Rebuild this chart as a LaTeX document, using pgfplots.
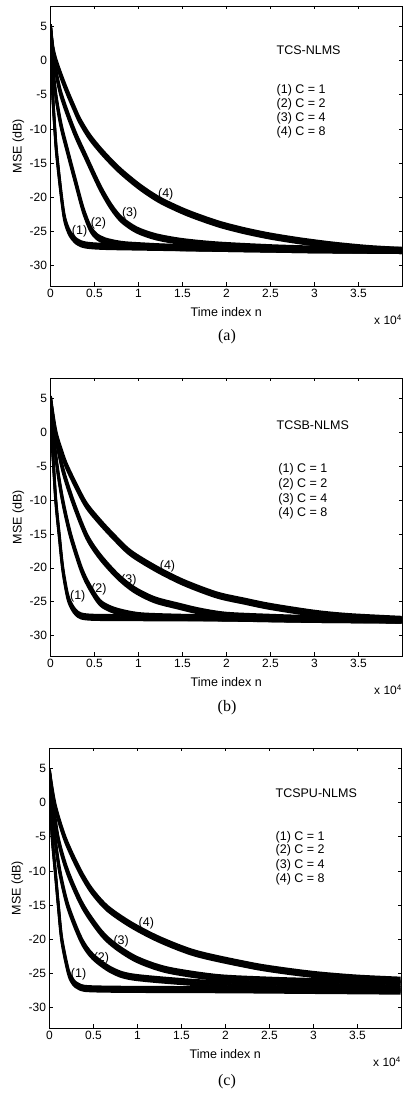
\documentclass[border=0pt]{standalone}
\usepackage{fontspec}
\setmainfont{Liberation Sans}
\newfontfamily\capfont{Liberation Serif}
\usepackage{pgfplots}
\usepackage{pgfplotstable}
\pgfplotsset{compat=1.18}

% (a) TCS-NLMS, x in units of 10^4
\pgfplotstableread{
x y
0 5
0.01 0
0.025 -5
0.049 -10
0.07 -13.6
0.125 -20
0.163 -23.3
0.22 -25.3
0.3 -26.5
0.4 -27.0
0.6 -27.2
1 -27.3
1.5 -27.4
2 -27.5
2.5 -27.6
3 -27.7
3.5 -27.75
3.99 -27.8
}\aA
\pgfplotstableread{
x y
0 5
0.02 0
0.06 -5
0.12 -9.5
0.2 -13.6
0.29 -18
0.37 -21.8
0.45 -24.5
0.52 -25.7
0.62 -26.4
0.8 -26.9
1.0 -27.1
1.4 -27.35
2 -27.5
2.5 -27.6
3 -27.7
3.5 -27.75
3.99 -27.8
}\aB
\pgfplotstableread{
x y
0 5
0.04 0
0.11 -4.5
0.2 -8
0.29 -11
0.39 -13.8
0.56 -18.5
0.69 -21.4
0.81 -23.3
0.98 -24.8
1.2 -25.8
1.5 -26.5
1.9 -27.0
2.5 -27.4
3 -27.6
3.5 -27.7
3.99 -27.8
}\aC
\pgfplotstableread{
x y
0 5
0.025 2
0.06 0
0.13 -2.6
0.2 -4.9
0.27 -7
0.333 -8.8
0.447 -11.2
0.6 -13.6
0.79 -16.1
1.016 -18.5
1.24 -20.4
1.5 -22.0
1.7 -23.0
1.93 -24.0
2.2 -24.9
2.5 -25.7
2.84 -26.4
3.2 -27.0
3.6 -27.5
3.99 -27.8
}\aD

% (b) TCSB-NLMS
\pgfplotstableread{
x y
0 5
0.012 0
0.035 -5
0.062 -10.4
0.1 -15.3
0.14 -20.2
0.195 -24.2
0.245 -25.8
0.29 -26.6
0.35 -27.1
0.5 -27.3
1 -27.35
2 -27.4
3 -27.6
3.99 -27.7
}\bA
\pgfplotstableread{
x y
0 5
0.03 0
0.08 -5.5
0.143 -10.4
0.23 -15.3
0.35 -20.2
0.44 -22.7
0.56 -25.1
0.69 -26.1
0.85 -26.7
1.05 -27.1
1.5 -27.3
2 -27.4
3 -27.6
3.99 -27.7
}\bB
\pgfplotstableread{
x y
0 5
0.05 0
0.14 -5.5
0.26 -10.4
0.41 -15.3
0.56 -18.3
0.76 -21.2
0.95 -23.2
1.18 -24.7
1.44 -25.6
1.7 -26.4
2.0 -27.0
2.5 -27.3
3 -27.5
3.5 -27.6
3.99 -27.7
}\bC
\pgfplotstableread{
x y
0 5
0.06 0
0.13 -3.1
0.2 -5.5
0.39 -10.4
0.54 -12.9
0.71 -15.3
0.91 -17.8
1.21 -20.2
1.52 -22.2
1.89 -24.0
2.2 -24.9
2.5 -25.7
3.0 -26.7
3.4 -27.2
3.99 -27.6
}\bD

% (c) TCSPU-NLMS
\pgfplotstableread{
x y
0 4.5
0.01 0
0.03 -5
0.065 -10
0.1 -15
0.14 -20.1
0.215 -24.8
0.27 -26.3
0.33 -26.9
0.4 -27.2
0.6 -27.3
1 -27.35
2 -27.4
3 -27.5
3.99 -27.6
}\cA
\pgfplotstableread{
x y
0 4.5
0.02 0
0.064 -5.4
0.12 -10.3
0.21 -15.2
0.36 -20.1
0.49 -22.5
0.7 -24.5
0.93 -25.5
1.5 -26.2
2.0 -26.6
2.5 -26.9
3 -27.1
3.5 -27.2
3.99 -27.3
}\cB
\pgfplotstableread{
x y
0 4.5
0.04 0
0.1 -5.4
0.21 -10.3
0.38 -15.2
0.59 -19.1
0.76 -21.1
1.0 -23
1.34 -24.5
1.9 -25.6
2.5 -26.0
3 -26.2
3.5 -26.4
3.99 -26.5
}\cC
\pgfplotstableread{
x y
0 4.5
0.064 -0.5
0.18 -5.4
0.34 -9.9
0.48 -12.9
0.66 -15.5
0.93 -17.9
1.26 -20.1
1.67 -22.1
2.27 -23.8
2.6 -24.5
3.03 -25.2
3.5 -25.7
3.99 -26.0
}\cD

\newcommand{\tfont}{\fontsize{12}{13}\selectfont}
\newcommand{\lfont}{\fontsize{12.5}{14}\selectfont}
\pgfplotsset{mseax/.style={
  scale only axis, width=351.5pt, height=280pt,
  xmin=0, xmax=3.995, ymin=-33, ymax=8,
  xtick={0,0.5,...,3.5}, ytick={-30,-25,...,5},
  tick align=inside, xtick pos=both, ytick pos=both,
  major tick length=3.5pt,
  axis line style={line width=0.7pt},
  tick style={line width=0.6pt, black},
  ticklabel style={font=\tfont},
  /pgf/number format/assume math mode=true,
  xlabel={Time index n}, ylabel={MSE (dB)},
  label style={font=\lfont},
  xlabel style={at={(axis description cs:0.5,0)}, anchor=center, yshift=-26pt},
  ylabel style={at={([xshift=-32pt]axis description cs:0,0.5)}, anchor=center},
  clip mode=individual,
}, curve/.style={black, line width=2.7pt, line join=round, no marks, smooth, tension=0.5}}

% each noisy MSE curve drawn as a band about 7pt high
\newcommand{\band}[1]{%
  \addplot[curve, yshift=2.2pt] table {#1};
  \addplot[curve] table {#1};
  \addplot[curve, yshift=-2.2pt] table {#1};}

\begin{document}
\begin{tikzpicture}[x=1pt,y=1pt]
\path[use as bounding box] (0,0) rectangle (403,1099);

\begin{axis}[mseax, at={(50.5pt,1093pt)}, anchor=north west]
\band{\aA}\band{\aB}\band{\aC}\band{\aD}
\node[font=\lfont] at (axis cs:0.33,-24.95) {(1)};
\node[font=\lfont] at (axis cs:0.545,-23.8) {(2)};
\node[font=\lfont] at (axis cs:0.9,-22.3) {(3)};
\node[font=\lfont] at (axis cs:1.31,-19.5) {(4)};
\node[font=\lfont, anchor=west] at (axis cs:2.53,1.56) {TCS-NLMS};
\node[font=\lfont, anchor=west] at (axis cs:2.53,-4.3) {(1) C = 1};
\node[font=\lfont, anchor=west] at (axis cs:2.53,-6.35) {(2) C = 2};
\node[font=\lfont, anchor=west] at (axis cs:2.53,-8.4) {(3) C = 4};
\node[font=\lfont, anchor=west] at (axis cs:2.53,-10.45) {(4) C = 8};
\node[font=\tfont] at ([xshift=-14pt,yshift=-34pt]rel axis cs:1,0) {x 10\textsuperscript{4}};
\end{axis}
\node[font=\capfont\fontsize{16}{18}\selectfont] at (227,762) {(a)};

\begin{axis}[mseax, at={(50.5pt,721pt)}, anchor=north west, height=278pt]
\band{\bA}\band{\bB}\band{\bC}\band{\bD}
\node[font=\lfont] at (axis cs:0.31,-24.25) {(1)};
\node[font=\lfont] at (axis cs:0.55,-23.2) {(2)};
\node[font=\lfont] at (axis cs:0.89,-21.8) {(3)};
\node[font=\lfont] at (axis cs:1.33,-19.8) {(4)};
\node[font=\lfont, anchor=west] at (axis cs:2.53,1.07) {TCSB-NLMS};
\node[font=\lfont, anchor=west] at (axis cs:2.55,-5.4) {(1) C = 1};
\node[font=\lfont, anchor=west] at (axis cs:2.55,-7.7) {(2) C = 2};
\node[font=\lfont, anchor=west] at (axis cs:2.55,-9.85) {(3) C = 4};
\node[font=\lfont, anchor=west] at (axis cs:2.55,-11.96) {(4) C = 8};
\node[font=\tfont] at ([xshift=-14pt,yshift=-34pt]rel axis cs:1,0) {x 10\textsuperscript{4}};
\end{axis}
\node[font=\capfont\fontsize{16}{18}\selectfont] at (227,391) {(b)};

\begin{axis}[mseax, at={(49.5pt,351pt)}, anchor=north west]
\band{\cA}\band{\cB}\band{\cC}\band{\cD}
\node[font=\lfont] at (axis cs:0.33,-25.2) {(1)};
\node[font=\lfont] at (axis cs:0.59,-22.8) {(2)};
\node[font=\lfont] at (axis cs:0.815,-20.3) {(3)};
\node[font=\lfont] at (axis cs:1.1,-17.6) {(4)};
\node[font=\lfont, anchor=west] at (axis cs:2.53,1.37) {TCSPU-NLMS};
\node[font=\lfont, anchor=west] at (axis cs:2.53,-5.0) {(1) C = 1};
\node[font=\lfont, anchor=west] at (axis cs:2.53,-7.0) {(2) C = 2};
\node[font=\lfont, anchor=west] at (axis cs:2.53,-9.1) {(3) C = 4};
\node[font=\lfont, anchor=west] at (axis cs:2.53,-11.2) {(4) C = 8};
\node[font=\tfont] at ([xshift=-14pt,yshift=-34pt]rel axis cs:1,0) {x 10\textsuperscript{4}};
\end{axis}
\node[font=\capfont\fontsize{16}{18}\selectfont] at (227,17) {(c)};
\end{tikzpicture}
\end{document}
